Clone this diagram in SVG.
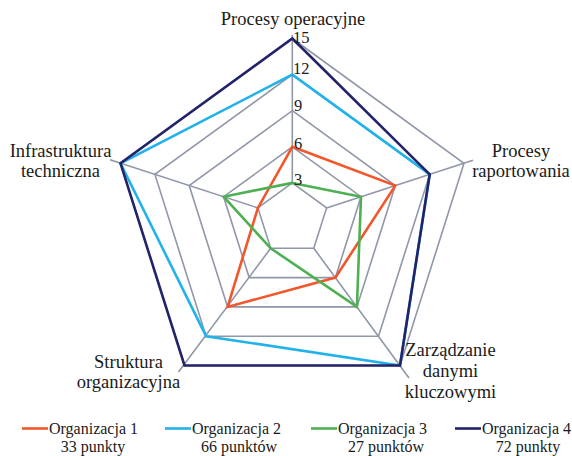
<svg xmlns="http://www.w3.org/2000/svg" width="572" height="456" viewBox="0 0 572 456">
<style>
.grid{fill:none;stroke:#8F97A8;stroke-width:1.6;stroke-linejoin:miter}
.s{fill:none;stroke-width:2.6;stroke-linejoin:miter}
.o1{stroke:#F2562A}.o2{stroke:#22B2EA}.o3{stroke:#4DB052}.o4{stroke:#22236A}
text{fill:#1a1a1a;font-family:'Liberation Serif','Times New Roman',serif}
.lab{font-size:18.5px;text-anchor:middle}
.num{font-size:16.5px}
.leg{font-size:16px}
.legc{font-size:16px;text-anchor:middle}
</style>
<rect width="572" height="456" fill="#fff"/>
<g id="grid">
<polygon class="grid" points="292.3,182.9 326.6,207.9 313.8,248.3 270.7,248.3 257.9,207.9"/>
<polygon class="grid" points="292.3,146.8 361.0,196.7 335.4,277.6 249.2,277.6 223.6,196.7"/>
<polygon class="grid" points="292.3,110.7 395.3,185.6 356.9,306.9 227.6,306.9 189.2,185.6"/>
<polygon class="grid" points="292.3,74.6 429.7,174.4 378.5,336.2 206.1,336.2 154.9,174.4"/>
<polygon class="grid" points="292.3,38.5 464.0,163.3 400.0,365.5 184.5,365.5 120.5,163.3"/>
<line class="grid" x1="292.3" y1="182.9" x2="292.3" y2="35"/>
<line class="grid" x1="326.6" y1="207.9" x2="473" y2="160.2"/>
<line class="grid" x1="313.8" y1="248.3" x2="409" y2="378"/>
<line class="grid" x1="270.7" y1="248.3" x2="178.5" y2="372"/>
<line class="grid" x1="257.9" y1="207.9" x2="110" y2="159.8"/>
</g>
<g id="connectors">
<polygon id="org1" class="s o1" points="292.3,146.8 395.3,185.6 335.4,277.6 227.6,306.9 257.9,207.9"/>
<polygon id="org2" class="s o2" points="292.3,74.6 429.7,174.4 400,365.5 206.1,336.2 120.5,163.3"/>
<polygon id="org3" class="s o3" points="292.3,182.9 361.0,196.7 356.9,306.9 270.7,248.3 223.6,196.7"/>
<polygon id="org4" class="s o4" points="292.3,38.5 429.7,174.4 400,365.5 184.5,365.5 120.5,163.3"/>
</g>
<g id="axis-values">
<text class="num" x="294" y="184.5">3</text>
<text class="num" x="294" y="148.5">6</text>
<text class="num" x="294" y="111">9</text>
<text class="num" x="293" y="74">12</text>
<text class="num" x="293" y="42.5">15</text>
</g>
<g id="label-procesy-operacyjne"><text class="lab" x="293" y="25">Procesy operacyjne</text></g>
<g id="label-procesy-raportowania"><text class="lab" x="521" y="157">Procesy</text><text class="lab" x="521" y="177">raportowania</text></g>
<g id="label-zarzadzanie"><text class="lab" x="450.5" y="356">Zarządzanie</text><text class="lab" x="450.5" y="377">danymi</text><text class="lab" x="450.5" y="398">kluczowymi</text></g>
<g id="label-struktura"><text class="lab" x="128.5" y="368">Struktura</text><text class="lab" x="128.5" y="388">organizacyjna</text></g>
<g id="label-infrastruktura"><text class="lab" x="60.5" y="157">Infrastruktura</text><text class="lab" x="60.5" y="177">techniczna</text></g>
<g id="legend">
<g id="legend-1"><line class="s o1" x1="22" y1="428.5" x2="48" y2="428.5"/><text class="leg" x="49" y="434">Organizacja 1</text><text class="legc" x="93" y="452">33 punkty</text></g>
<g id="legend-2"><line class="s o2" x1="165" y1="428.5" x2="191" y2="428.5"/><text class="leg" x="192" y="434">Organizacja 2</text><text class="legc" x="239" y="452">66 punktów</text></g>
<g id="legend-3"><line class="s o3" x1="311" y1="428.5" x2="337" y2="428.5"/><text class="leg" x="338" y="434">Organizacja 3</text><text class="legc" x="386" y="452">27 punktów</text></g>
<g id="legend-4"><line class="s o4" x1="455" y1="428.5" x2="481" y2="428.5"/><text class="leg" x="482" y="434">Organizacja 4</text><text class="legc" x="528" y="452">72 punkty</text></g>
</g>
</svg>
